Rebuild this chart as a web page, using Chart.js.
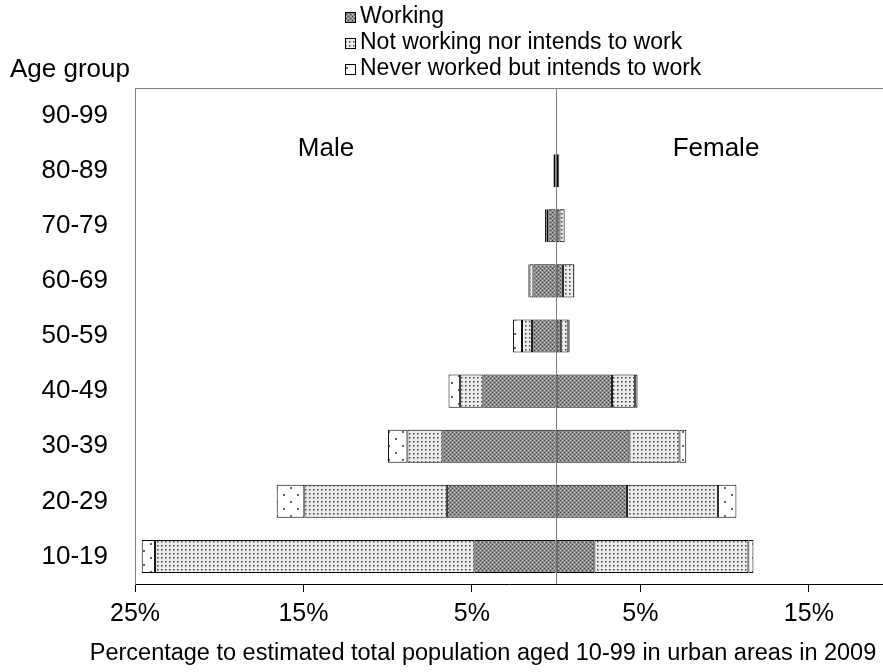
<!DOCTYPE html>
<html>
<head>
<meta charset="utf-8">
<script src="https://cdn.jsdelivr.net/npm/chart.js@4.4.0/dist/chart.umd.min.js"></script>
<style>
  body { margin: 0; background: #fff; }
  canvas { display: block; }
</style>
</head>
<body>
<canvas id="pyramid" width="883" height="672"></canvas>
<script>
// values in % of total population aged 10-99 (urban, 2009)
var ageGroups = ["10-19", "20-29", "30-39", "40-49", "50-59", "60-69", "70-79", "80-89", "90-99"];
var maleWorking       = [4.85, 6.49, 6.75, 4.32, 1.44, 1.35, 0.46, 0.13, 0];
var maleNotWorking    = [18.96, 8.46, 2.08, 1.38, 0.59, 0.24, 0.12, 0.03, 0];
var maleNeverWorked   = [0.79, 1.64, 1.15, 0.69, 0.53, 0.06, 0.08, 0.01, 0];
var femaleWorking     = [2.27, 4.20, 4.35, 3.31, 0.30, 0.40, 0.20, 0.12, 0];
var femaleNotWorking  = [9.14, 5.40, 2.97, 1.38, 0.42, 0.67, 0.30, 0.06, 0];
var femaleNeverWorked = [0.30, 1.10, 0.40, 0.14, 0.08, 0.02, 0.02, 0.01, 0];
var xTicks = [-25, -15, -5, 0, 5, 15];
var legendLabels = ["Working", "Not working nor intends to work", "Never worked but intends to work"];

var FONT = "'Liberation Sans', Arial, sans-serif";

document.addEventListener("DOMContentLoaded", function () {
  var ctx = document.getElementById("pyramid").getContext("2d");

  function makePattern(size, bg, dots, dotSize) {
    var c = document.createElement("canvas");
    c.width = size;
    c.height = size;
    var g = c.getContext("2d");
    g.fillStyle = bg;
    g.fillRect(0, 0, size, size);
    dots.forEach(function (d) {
      g.fillStyle = d[2];
      g.fillRect(d[0], d[1], dotSize, dotSize);
    });
    return ctx.createPattern(c, "repeat");
  }

  var workingFill = makePattern(4, "#8c8c8c",
    [[0, 0, "#3a3a3a"], [2, 2, "#3a3a3a"], [2, 0, "#cfcfcf"], [0, 2, "#cfcfcf"]], 1);
  var notWorkingFill = makePattern(4, "#ececec",
    [[1, 1, "#404040"], [2, 1, "#9a9a9a"], [1, 2, "#9a9a9a"], [2, 2, "#b8b8b8"]], 1);
  var neverFill = makePattern(14, "#ffffff",
    [[3, 4, "#666"], [10, 11, "#666"]], 2);
  var fills = [workingFill, notWorkingFill, neverFill];

  function neg(arr) { return arr.map(function (v) { return -v; }); }

  function ds(label, data, fill) {
    return {
      label: label,
      data: data,
      backgroundColor: fill,
      borderColor: "#000",
      borderWidth: 1,
      borderSkipped: false,
      stack: "pop"
    };
  }

  var annotations = {
    id: "annotations",
    afterDraw: function (chart) {
      var c = chart.ctx;
      var a = chart.chartArea;
      c.save();
      // top frame line
      c.strokeStyle = "#808080";
      c.lineWidth = 1;
      c.beginPath();
      c.moveTo(a.left, a.top + 0.5);
      c.lineTo(a.right, a.top + 0.5);
      c.stroke();

      // legend
      c.font = "23px " + FONT;
      c.textBaseline = "middle";
      c.textAlign = "left";
      legendLabels.forEach(function (txt, i) {
        var y = 17 + i * 26;
        c.fillStyle = fills[i];
        c.fillRect(345, y - 5, 11, 11);
        c.strokeStyle = "#000";
        c.strokeRect(345.5, y - 4.5, 10, 10);
        c.fillStyle = "#000";
        c.fillText(txt, 360, y);
      });

      c.font = "26px " + FONT;
      c.fillStyle = "#000";
      c.textAlign = "left";
      c.fillText("Age group", 10, 70);
      c.textAlign = "center";
      c.fillText("Male", 326, 149);
      c.fillText("Female", 716, 149);

      c.font = "23.5px " + FONT;
      c.fillText("Percentage to estimated total population aged 10-99 in urban areas in 2009", 483, 654);
      c.restore();
    }
  };

  new Chart(ctx, {
    type: "bar",
    data: {
      labels: ageGroups,
      datasets: [
        ds("Working", neg(maleWorking), workingFill),
        ds("Not working nor intends to work", neg(maleNotWorking), notWorkingFill),
        ds("Never worked but intends to work", neg(maleNeverWorked), neverFill),
        ds("Working", femaleWorking, workingFill),
        ds("Not working nor intends to work", femaleNotWorking, notWorkingFill),
        ds("Never worked but intends to work", femaleNeverWorked, neverFill)
      ]
    },
    options: {
      indexAxis: "y",
      responsive: false,
      animation: false,
      layout: { padding: { top: 88, left: 0, right: 0, bottom: 0 } },
      barPercentage: 0.6,
      categoryPercentage: 1,
      plugins: {
        legend: { display: false },
        tooltip: { enabled: false }
      },
      scales: {
        x: {
          type: "linear",
          stacked: true,
          min: -25,
          max: 19.4,
          afterBuildTicks: function (scale) {
            scale.ticks = xTicks.map(function (v) { return { value: v }; });
          },
          afterFit: function (scale) { scale.height = 88; },
          grid: {
            drawOnChartArea: true,
            tickLength: 8,
            color: function (c) { return c.tick && c.tick.value === 0 ? "#808080" : "rgba(0,0,0,0)"; },
            tickColor: function (c) { return c.tick && c.tick.value === 0 ? "rgba(0,0,0,0)" : "#000"; }
          },
          border: { display: true, color: "#000", width: 1 },
          ticks: {
            autoSkip: false,
            maxRotation: 0,
            padding: 7,
            color: "#000",
            font: { family: FONT, size: 25 },
            callback: function (v) { return v === 0 ? "" : Math.abs(v) + "%"; }
          }
        },
        y: {
          stacked: true,
          reverse: true,
          afterFit: function (scale) { scale.width = 135; },
          grid: { display: false },
          border: { display: true, color: "#808080", width: 1 },
          ticks: {
            padding: 19,
            color: "#000",
            font: { family: FONT, size: 26 }
          }
        }
      }
    },
    plugins: [annotations]
  });
});
</script>
</body>
</html>
